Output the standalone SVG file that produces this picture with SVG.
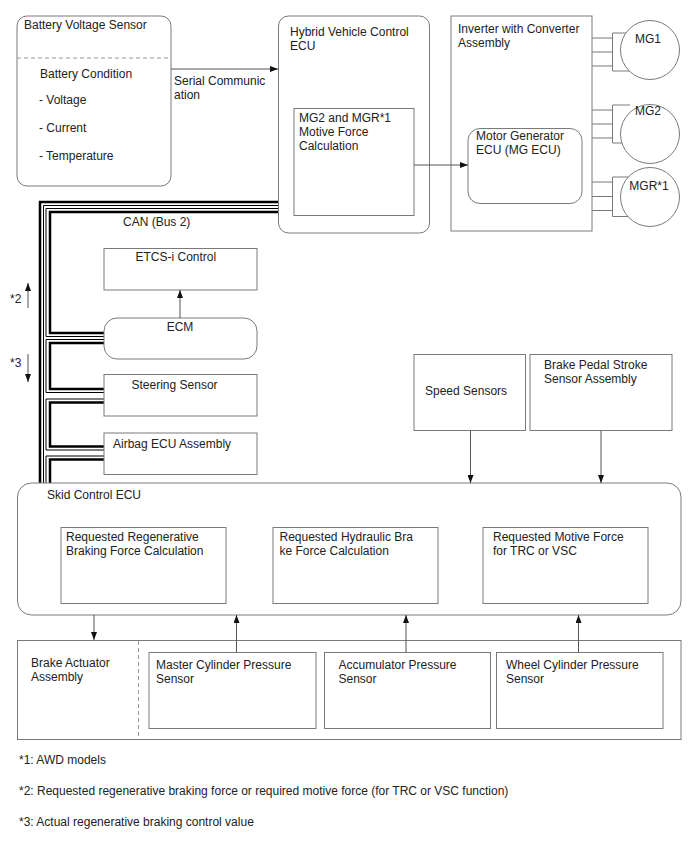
<svg xmlns="http://www.w3.org/2000/svg" width="688" height="852" viewBox="0 0 688 852">
<defs>
<marker id="ah" viewBox="0 0 8 6" refX="8" refY="3" markerWidth="8" markerHeight="6" markerUnits="userSpaceOnUse" orient="auto"><path d="M0,0 L8,3 L0,6 Z" fill="#111"/></marker>
</defs>
<style>
text{font-family:"Liberation Sans",Arial,sans-serif;font-size:12px;fill:#222}
.box{fill:#fff;stroke:#7a7a7a;stroke-width:1}
.dash{stroke:#999;stroke-width:1;stroke-dasharray:4,3;fill:none}
.conn{stroke:#555;stroke-width:1;fill:none;marker-end:url(#ah)}
.wire{stroke:#7a7a7a;stroke-width:1;fill:none}
.bk{stroke:#000;stroke-width:2.5;fill:none}
.bt{stroke:#000;stroke-width:1;fill:none}
.mid{text-anchor:middle}
</style>
<rect width="688" height="852" fill="#fff"/>

<g id="can-bus">
<path class="bk" d="M278 202 H40 V483"/>
<path class="bt" d="M278 205.5 H43.5 V483"/>
<path class="bt" d="M278 208.5 H46 V336.5 H104"/>
<path class="bk" d="M278 212 H50 V333 H104"/>
<path class="bt" d="M104 339.5 H46 V392.5 H104"/>
<path class="bk" d="M104 343 H50 V389 H104"/>
<path class="bt" d="M104 399 H46 V450 H104"/>
<path class="bk" d="M104 402.5 H50 V446.5 H104"/>
<path class="bt" d="M104 456 H46 V483"/>
<path class="bk" d="M104 459.5 H50 V483"/>
<text x="123" y="226">CAN (Bus 2)</text>
</g>

<g id="battery-sensor">
<rect class="box" x="17" y="16" width="154" height="170" rx="10"/>
<line class="dash" x1="17" y1="58" x2="171" y2="58"/>
<text x="24" y="29">Battery Voltage Sensor</text>
<text x="40" y="78">Battery Condition</text>
<text x="39" y="104">- Voltage</text>
<text x="39" y="132">- Current</text>
<text x="39" y="160">- Temperature</text>
</g>

<g id="hv-ecu">
<rect class="box" x="278.5" y="16" width="151" height="217" rx="10"/>
<text x="290" y="36">Hybrid Vehicle Control</text>
<text x="290" y="50">ECU</text>
</g>
<g id="motive-force-calc">
<rect class="box" x="294" y="108.5" width="120" height="107"/>
<text x="299" y="122">MG2 and MGR*1</text>
<text x="299" y="136">Motive Force</text>
<text x="299" y="150">Calculation</text>
</g>

<g id="inverter">
<rect class="box" x="451" y="16" width="141" height="215"/>
<text x="458" y="33">Inverter with Converter</text>
<text x="458" y="47">Assembly</text>
</g>
<g id="mg-ecu">
<rect class="box" x="468" y="128.5" width="114" height="75" rx="12"/>
<text x="476" y="140">Motor Generator</text>
<text x="476" y="154">ECU (MG ECU)</text>
</g>

<g id="mg1">
<path class="wire" d="M592 38 H612.5 M592 52 H612.5 M592 66 H612.5 M630 33 H612.5 V71 H630"/>
<circle class="box" cx="650" cy="50" r="29.5"/>
<text class="mid" x="648" y="43">MG1</text>
</g>
<g id="mg2">
<path class="wire" d="M592 110 H612.5 M592 124 H612.5 M592 138 H612.5 M630 105 H612.5 V143 H630"/>
<circle class="box" cx="650" cy="134" r="29.5"/>
<text class="mid" x="648" y="115">MG2</text>
</g>
<g id="mgr">
<path class="wire" d="M592 182 H612.5 M592 196.5 H612.5 M592 210.5 H612.5 M630 177 H612.5 V216.5 H630"/>
<circle class="box" cx="650" cy="197" r="29.5"/>
<text class="mid" x="649" y="190">MGR*1</text>
</g>

<g id="etcs">
<rect class="box" x="104" y="248.5" width="153" height="41.5"/>
<text x="135.5" y="261">ETCS-i Control</text>
</g>
<g id="ecm">
<rect class="box" x="104" y="318" width="153" height="41" rx="13"/>
<text class="mid" x="180" y="331">ECM</text>
</g>
<g id="steering">
<rect class="box" x="104" y="374.5" width="153" height="41.5"/>
<text x="131.5" y="389">Steering Sensor</text>
</g>
<g id="airbag">
<rect class="box" x="104" y="433" width="153" height="41.5"/>
<text x="113" y="448">Airbag ECU Assembly</text>
</g>

<g id="speed-sensors">
<rect class="box" x="414" y="354.5" width="111.5" height="76"/>
<text x="425" y="395">Speed Sensors</text>
</g>
<g id="brake-pedal">
<rect class="box" x="530" y="354.5" width="142" height="76"/>
<text x="544" y="369">Brake Pedal Stroke</text>
<text x="544" y="383">Sensor Assembly</text>
</g>

<g id="skid-ecu">
<rect class="box" x="17.5" y="483" width="663.5" height="132" rx="14"/>
<text x="47" y="499">Skid Control ECU</text>
</g>
<g id="regen-calc">
<rect class="box" x="61" y="527.5" width="165" height="76"/>
<text x="66" y="541">Requested Regenerative</text>
<text x="66" y="555">Braking Force Calculation</text>
</g>
<g id="hydraulic-calc">
<rect class="box" x="273" y="527.5" width="165" height="76"/>
<text x="279.5" y="541">Requested Hydraulic Bra</text>
<text x="279.5" y="555">ke Force Calculation</text>
</g>
<g id="motive-request">
<rect class="box" x="483" y="527.5" width="165" height="76"/>
<text x="493" y="541">Requested Motive Force</text>
<text x="493" y="555">for TRC or VSC</text>
</g>

<g id="brake-actuator">
<rect class="box" x="17.5" y="640.5" width="663.5" height="99"/>
<line class="dash" x1="138.5" y1="641" x2="138.5" y2="739"/>
<text x="31" y="667">Brake Actuator</text>
<text x="31" y="681">Assembly</text>
</g>
<g id="master-cyl">
<rect class="box" x="149" y="652.5" width="167" height="76"/>
<text x="156" y="669">Master Cylinder Pressure</text>
<text x="156" y="683">Sensor</text>
</g>
<g id="accumulator">
<rect class="box" x="324.5" y="652.5" width="166" height="76"/>
<text x="338.5" y="669">Accumulator Pressure</text>
<text x="338.5" y="683">Sensor</text>
</g>
<g id="wheel-cyl">
<rect class="box" x="496.5" y="652.5" width="166.5" height="76"/>
<text x="506" y="669">Wheel Cylinder Pressure</text>
<text x="506" y="683">Sensor</text>
</g>

<g id="connectors">
<path class="conn" d="M171 69 H278"/>
<text x="174" y="85">Serial Communic</text>
<text x="174" y="99">ation</text>
<path class="conn" d="M414 165 H468"/>
<path class="conn" d="M180 318 V290"/>
<path class="conn" d="M28 308 V283"/>
<text x="10" y="303">*2</text>
<path class="conn" d="M28 354 V382"/>
<text x="10" y="367">*3</text>
<path class="conn" d="M470.5 430.5 V483"/>
<path class="conn" d="M601 430.5 V483"/>
<path class="conn" d="M94 615 V640"/>
<path class="conn" d="M236.5 652.5 V615"/>
<path class="conn" d="M406 652.5 V615"/>
<path class="conn" d="M578.5 652.5 V615"/>
</g>

<g id="footnotes">
<text x="19" y="764">*1: AWD models</text>
<text x="19" y="795">*2: Requested regenerative braking force or required motive force (for TRC or VSC function)</text>
<text x="19" y="826">*3: Actual regenerative braking control value</text>
</g>
</svg>
